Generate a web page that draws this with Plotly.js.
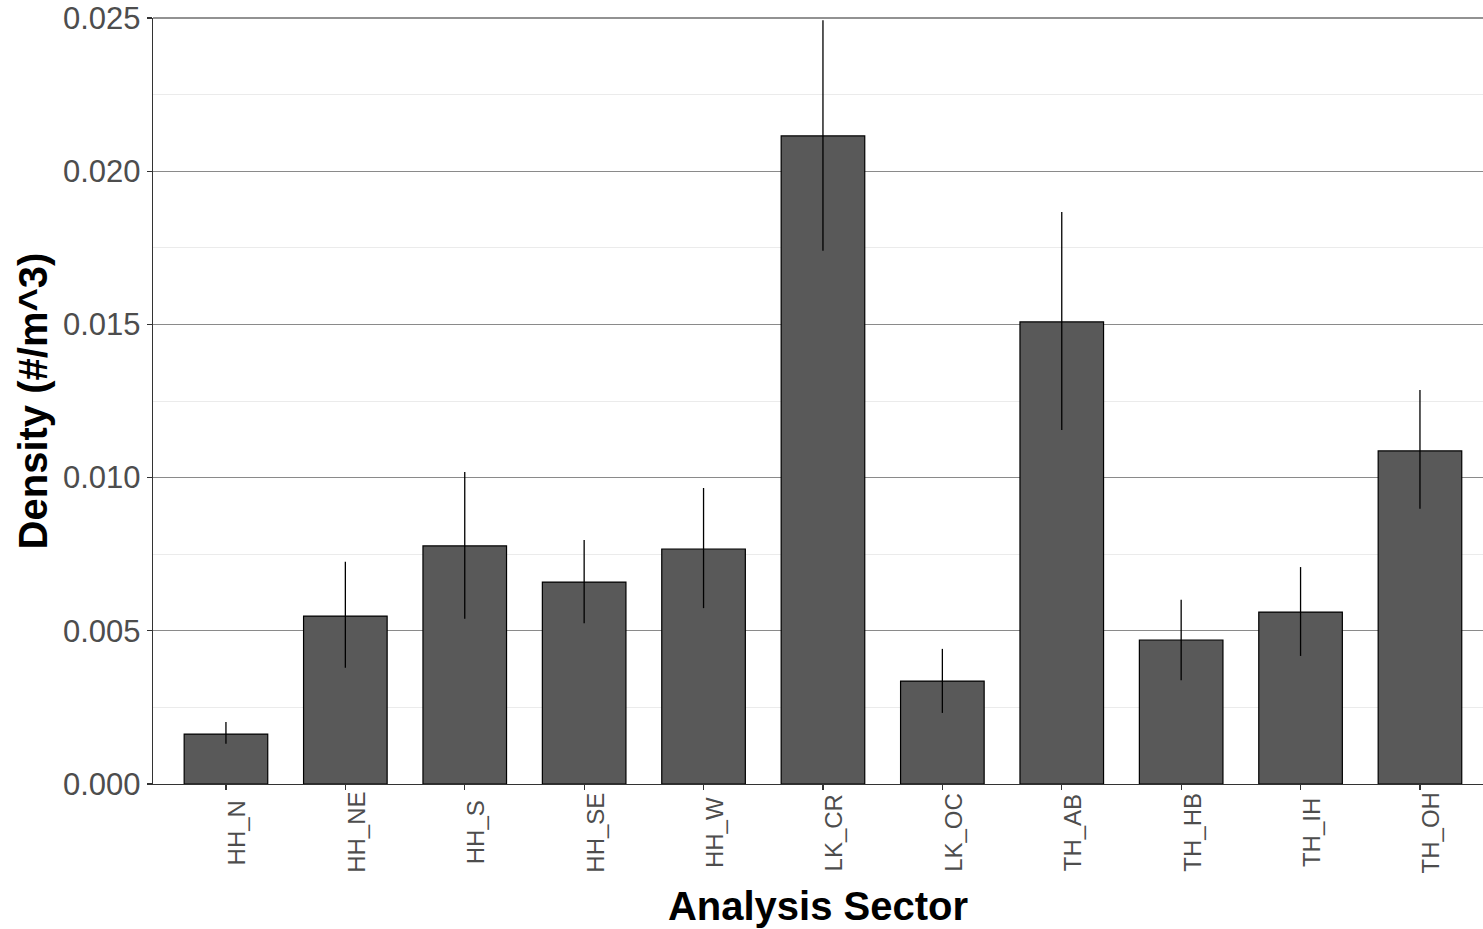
<!DOCTYPE html>
<html>
<head>
<meta charset="utf-8">
<script src="https://cdn.plot.ly/plotly-3.0.1.min.js"></script>
<style>html,body{margin:0;padding:0;background:#fff;}#chart{width:1483px;height:929px;}</style>
</head>
<body>
<div id="chart"></div>
<script>
const sectors = ["HH_N","HH_NE","HH_S","HH_SE","HH_W","LK_CR","LK_OC","TH_AB","TH_HB","TH_IH","TH_OH"];
const density = [0.00163,0.00548,0.00777,0.00659,0.00767,0.02115,0.00336,0.01508,0.00470,0.00561,0.01087];
const upper   = [0.00202,0.00725,0.01018,0.00796,0.00966,0.02493,0.00441,0.01867,0.00601,0.00708,0.01286];
const lower   = [0.00131,0.00379,0.00539,0.00525,0.00574,0.01740,0.00232,0.01155,0.00339,0.00418,0.00898];
const yTicks  = [0,0.005,0.010,0.015,0.020,0.025];

const errPlus = density.map((d,i)=>upper[i]-d);
const errMinus = density.map((d,i)=>d-lower[i]);

const trace = {
  type:'bar', x: sectors, y: density, width: 0.7,
  marker:{color:'#595959', line:{color:'#000000', width:1.2}},
  error_y:{type:'data', symmetric:false, array:errPlus, arrayminus:errMinus,
           color:'#000000', thickness:1.3, width:0},
  hoverinfo:'x+y'
};

// category tick labels, drawn as rotated text centred below each tick
const labelAnnotations = sectors.map(s => ({
  x: s, xref:'x', y:0, yref:'paper',
  text: s, showarrow:false, textangle:-90,
  xanchor:'center', yanchor:'middle', xshift:11, yshift:-48.5,
  font:{size:24, color:'#4d4d4d', family:'Liberation Sans, Arial, sans-serif'}
}));

const layout = {
  width:1483, height:929,
  margin:{l:153, r:0, t:18, b:145},
  paper_bgcolor:'#ffffff', plot_bgcolor:'#ffffff',
  showlegend:false, bargap:0.3,
  font:{family:'Liberation Sans, Arial, sans-serif'},
  xaxis:{
    type:'category', range:[-0.611,10.528],
    showgrid:false, zeroline:false,
    showline:true, linecolor:'#333333', linewidth:1.2,
    ticks:'outside', ticklen:5, tickcolor:'#333333', tickwidth:1.2,
    showticklabels:false,
    title:{text:'<b>Analysis Sector</b>', font:{size:40, color:'#000000'}, standoff:102}
  },
  yaxis:{
    range:[0,0.025], tickvals:yTicks, tickformat:'.3f',
    showgrid:true, gridcolor:'#8a8a8a', gridwidth:1.2,
    zeroline:false,
    showline:true, linecolor:'#333333', linewidth:1.2,
    ticks:'outside', ticklen:5, tickcolor:'#333333', tickwidth:1.2,
    tickfont:{size:31, color:'#4d4d4d'},
    minor:{dtick:0.0025, tick0:0, showgrid:true, gridcolor:'#ebebeb', gridwidth:1, ticks:''},
    title:{text:'<b>Density (#/m^3)</b>', font:{size:40, color:'#000000'}, standoff:3}
  },
  shapes:[{type:'line', xref:'paper', yref:'paper', x0:0, x1:1, y0:1, y1:1,
           line:{color:'#6e6e6e', width:1.4}}],
  annotations: labelAnnotations
};

Plotly.newPlot('chart',[trace],layout,{displayModeBar:false, staticPlot:true});
</script>
</body>
</html>
